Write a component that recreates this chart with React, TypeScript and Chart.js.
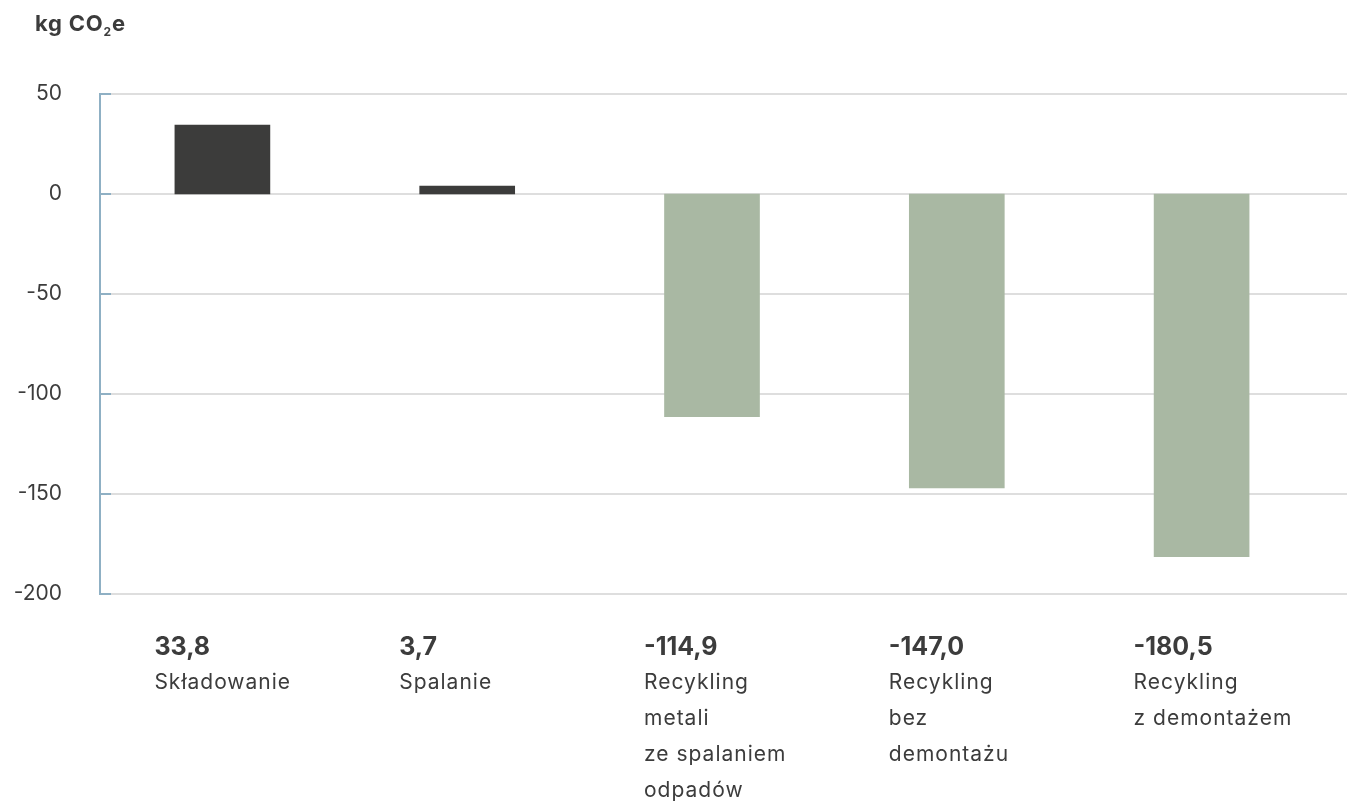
import React, { useEffect, useRef } from "react";
import { Chart, registerables } from "chart.js";

Chart.register(...registerables);

const categories = ["Składowanie", "Spalanie", "Recykling metali ze spalaniem odpadów", "Recykling bez demontażu", "Recykling z demontażem"];
const categoryLines = [
  ["Składowanie"],
  ["Spalanie"],
  ["Recykling", "metali", "ze spalaniem", "odpadów"],
  ["Recykling", "bez", "demontażu"],
  ["Recykling", "z demontażem"],
];
const valueLabels = ["33,8", "3,7", "-114,9", "-147,0", "-180,5"];
const barValues = [34.5, 4, -111.3, -147, -181.3];
const yMin = -200;
const yMax = 50;
const yStep = 50;

const DARK = "#3c3c3b";
const GREEN = "#a9b8a3";
const TEXT = "#3c3c3c";
const FONT = "Inter, 'Open Sans', sans-serif";

export default function App() {
  const ref = useRef<HTMLCanvasElement | null>(null);

  useEffect(() => {
    if (!ref.current) return;
    const gridPlugin = {
      id: "customGrid",
      beforeDatasetsDraw(chart: any) {
        const { ctx, chartArea, scales } = chart;
        const y = scales.y;
        ctx.save();
        y.ticks.forEach((t: any) => {
          const py = Math.round(y.getPixelForValue(t.value));
          ctx.fillStyle = "#dedede";
          ctx.fillRect(chartArea.left, py - 1, chart.width - chartArea.left, 2);
          ctx.fillStyle = "#8fb0c4";
          ctx.fillRect(chartArea.left - 1, py - 1, 12, 2);
        });
        ctx.restore();
      },
      afterDraw(chart: any) {
        const { ctx, scales } = chart;
        const x = scales.x;
        const base = scales.y.bottom;
        ctx.save();
        ctx.fillStyle = TEXT;
        ctx.textAlign = "left";
        ctx.textBaseline = "middle";
        categoryLines.forEach((lines, i) => {
          const px = x.getPixelForValue(i) - 68;
          ctx.font = `700 25px ${FONT}`;
          (ctx as any).letterSpacing = "0px";
          ctx.fillText(valueLabels[i], px, base + 53);
          ctx.font = `400 21px ${FONT}`;
          (ctx as any).letterSpacing = "1px";
          lines.forEach((l, k) => {
            ctx.fillText(l, px, base + 89 + k * 36);
          });
        });
        ctx.restore();
      },
    };

    const chart = new Chart(ref.current, {
      type: "bar",
      data: {
        labels: categories,
        datasets: [
          {
            data: barValues,
            backgroundColor: barValues.map((v) => (v >= 0 ? DARK : GREEN)),
            barThickness: 95,
          },
        ],
      },
      options: {
        animation: false,
        responsive: false,
        maintainAspectRatio: false,
        layout: { padding: { top: 94, bottom: 214, right: 23, left: 0 } },
        plugins: { legend: { display: false }, tooltip: { enabled: false }, title: { display: false } },
        scales: {
          x: { type: "category", display: false, offset: true },
          y: {
            min: yMin,
            max: yMax,
            afterFit: (s: any) => {
              s.width = 100;
            },
            ticks: {
              stepSize: yStep,
              padding: 38,
              color: TEXT,
              font: { family: FONT, size: 21 },
            },
            grid: { display: false, drawTicks: false },
            border: { display: true, color: "#8fb0c4", width: 2 },
          },
        },
      },
      plugins: [gridPlugin],
    });
    return () => chart.destroy();
  }, []);

  return (
    <div style={{ position: "fixed", left: 0, top: 0, width: 1347, height: 808, background: "#fff" }}>
      <div
        style={{
          position: "absolute",
          left: 35,
          top: 10,
          fontFamily: FONT,
          fontWeight: 700,
          fontSize: 22,
          color: TEXT,
          letterSpacing: "0.8px",
        }}
      >
        kg CO<span style={{ fontSize: 12, position: "relative", top: 5 }}>2</span>e
      </div>
      <canvas ref={ref} width={1347} height={808} style={{ display: "block" }} />
    </div>
  );
}
